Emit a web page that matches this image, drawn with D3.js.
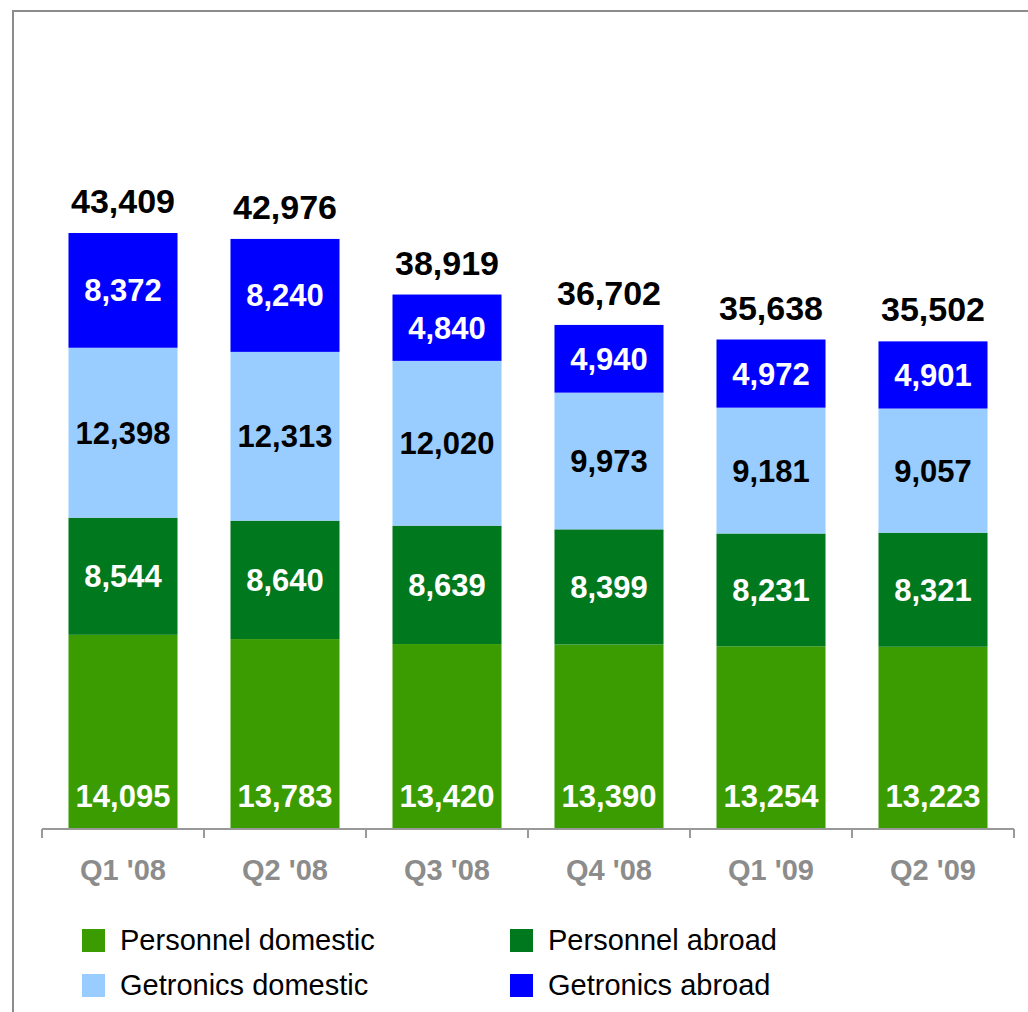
<!DOCTYPE html>
<html><head><meta charset="utf-8">
<script src="https://cdn.jsdelivr.net/npm/d3@7"></script>
<style>body{margin:0;background:#fff}svg{display:block}</style>
</head><body>
<script>
const categories = ["Q1 '08","Q2 '08","Q3 '08","Q4 '08","Q1 '09","Q2 '09"];
const personnelDomestic = [14095,13783,13420,13390,13254,13223];
const personnelAbroad = [8544,8640,8639,8399,8231,8321];
const getronicsDomestic = [12398,12313,12020,9973,9181,9057];
const getronicsAbroad = [8372,8240,4840,4940,4972,4901];
const totals = [43409,42976,38919,36702,35638,35502];
const seriesNames = ["Personnel domestic","Personnel abroad","Getronics domestic","Getronics abroad"];
const seriesKeys = ["pd","pa","gd","ga"];
const colors = ["#3A9C00","#00781E","#99CCFF","#0000FF"];
const labelColors = ["#fff","#fff","#000","#fff"];

const W=1028,H=1012;
const font = "'Liberation Sans', Arial, Helvetica, sans-serif";
const svg = d3.select("body").append("svg").attr("width",W).attr("height",H);

// frame
svg.append("path").attr("d","M13,1012V11H1028").attr("fill","none").attr("stroke","#8c8c8c").attr("stroke-width",2);

const rows = categories.map((c,i)=>({cat:c,pd:personnelDomestic[i],pa:personnelAbroad[i],gd:getronicsDomestic[i],ga:getronicsAbroad[i],total:totals[i]}));
const stack = d3.stack().keys(seriesKeys)(rows);

const x = d3.scaleBand().domain(categories).range([42,1014]).paddingInner(0.327).paddingOuter(0.1635);
const y = d3.scaleLinear().domain([0,43409]).range([828,233]);

const g = svg.append("g");
stack.forEach((s,si)=>{
  g.selectAll(null).data(s).enter().append("rect")
    .attr("x",d=>x(d.data.cat)).attr("width",x.bandwidth())
    .attr("y",d=>y(d[1])).attr("height",d=>y(d[0])-y(d[1]))
    .attr("fill",colors[si]);
  g.selectAll(null).data(s).enter().append("text")
    .attr("x",d=>x(d.data.cat)+x.bandwidth()/2)
    .attr("y",d=> si===0 ? y(0)-21 : (y(d[0])+y(d[1]))/2 + 11)
    .attr("text-anchor","middle")
    .attr("font-family",font).attr("font-weight","bold").attr("font-size",31)
    .attr("fill",labelColors[si])
    .text(d=>d3.format(",")(d.data[seriesKeys[si]]));
});

// totals
g.selectAll(null).data(rows).enter().append("text")
  .attr("x",d=>x(d.cat)+x.bandwidth()/2).attr("y",d=>y(d.total)-20)
  .attr("text-anchor","middle").attr("font-family",font).attr("font-weight","bold").attr("font-size",34)
  .attr("fill","#000").text(d=>d3.format(",")(d.total));

// axis
const step = x.step();
const bounds = d3.range(categories.length+1).map(i=>42+i*step);
svg.append("line").attr("x1",42).attr("x2",1014).attr("y1",829).attr("y2",829).attr("stroke","#999").attr("stroke-width",2);
svg.selectAll(null).data(bounds).enter().append("line")
  .attr("x1",d=>d).attr("x2",d=>d).attr("y1",829).attr("y2",838).attr("stroke","#999").attr("stroke-width",2);
svg.selectAll(null).data(categories).enter().append("text")
  .attr("x",d=>x(d)+x.bandwidth()/2).attr("y",880)
  .attr("text-anchor","middle").attr("font-family",font).attr("font-weight","bold").attr("font-size",29)
  .attr("fill","#8c8c8c").text(d=>d);

// legend
const legPos = [[82,929],[82+428,929],[82,974],[82+428,974]];
const legOrder = [0,1,2,3];
legOrder.forEach((si,k)=>{
  const [lx,ly] = legPos[k];
  svg.append("rect").attr("x",lx).attr("y",ly).attr("width",23).attr("height",23).attr("fill",colors[si]);
  svg.append("text").attr("x",lx+38).attr("y",ly+21).attr("font-family",font).attr("font-size",29)
    .attr("fill","#000").text(seriesNames[si]);
});
</script>
</body></html>
